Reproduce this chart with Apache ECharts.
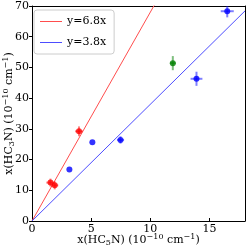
<!DOCTYPE html>
<html><head><meta charset="utf-8">
<script src="https://cdn.jsdelivr.net/npm/echarts@6/dist/echarts.min.js"></script>
<style>html,body{margin:0;padding:0;background:#fff}#c{width:249px;height:249px}</style>
</head><body><div id="c"></div>
<script>
// data
const redX = [1.56, 1.92, 3.97];
const redY = [12.5, 11.6, 29.2];
const redXerr = [0.35, 0.3, 0.33];
const redYerr = [1.3, 1.3, 1.6];
const blueX = [3.16, 5.1, 7.48, 13.9, 16.5];
const blueY = [16.8, 25.6, 26.4, 46.3, 68.3];
const blueXerr = [0.0, 0.0, 0.3, 0.5, 0.55];
const blueYerr = [0.0, 0.0, 1.2, 2.3, 2.0];
const greenX = [11.9];
const greenY = [51.4];
const greenXerr = [0.25];
const greenYerr = [2.3];
const lineNames = ['y=6.8x', 'y=3.8x'];
const lineSlopes = [6.8, 3.8];
const xTicks = [0, 5, 10, 15];
const yTicks = [0, 10, 20, 30, 40, 50, 60, 70];

const FONT = 'DejaVu Serif';
const chart = echarts.init(document.getElementById('c'), null, {renderer: 'canvas'});
const xMax = 18, yMax = 70;

function errSeries(xs, ys, xe, ye, color) {
  return {
    type: 'custom',
    silent: true,
    z: 3,
    data: xs.map((x, i) => [x, ys[i], xe[i], ye[i]]),
    renderItem: function (params, api) {
      const x = api.value(0), y = api.value(1), dx = api.value(2), dy = api.value(3);
      const children = [];
      const st = {stroke: color, lineWidth: 2, opacity: 0.5};
      if (dx > 0) {
        const a = api.coord([x - dx, y]), b = api.coord([x + dx, y]);
        children.push({type: 'line', shape: {x1: a[0], y1: a[1], x2: b[0], y2: b[1]}, style: st});
      }
      if (dy > 0) {
        const a = api.coord([x, y - dy]), b = api.coord([x, y + dy]);
        children.push({type: 'line', shape: {x1: a[0], y1: a[1], x2: b[0], y2: b[1]}, style: st});
      }
      return {type: 'group', children: children};
    },
    clip: true
  };
}
function ptSeries(xs, ys, color) {
  return {
    type: 'scatter', z: 4, symbol: 'circle', symbolSize: 6,
    itemStyle: {color: color},
    data: xs.map((x, i) => [x, ys[i]])
  };
}
const lineColors = ['#ff4d4d', '#4d4dff'];
const lines = lineSlopes.map((s, i) => ({
  type: 'line', name: lineNames[i], showSymbol: false, symbol: 'none', clip: true, z: 2,
  lineStyle: {color: lineColors[i], width: 1},
  itemStyle: {color: lineColors[i]},
  data: [[0, 0], [xMax, s * xMax]]
}));

const rich = {
  a: {fontFamily: FONT, fontSize: 11, color: '#000'},
  s: {fontFamily: FONT, fontSize: 8, color: '#000', padding: [5, 0, 0, 0]},
  p: {fontFamily: FONT, fontSize: 8, color: '#000', padding: [0, 0, 7, 0]}
};
const frame = {show: true, onZero: false, lineStyle: {color: '#000', width: 1}};

chart.setOption({
  animation: false,
  grid: {left: 32, right: 4, top: 6, bottom: 28, containLabel: false, outerBoundsMode: 'none'},
  legend: {
    left: 34, top: 10, orient: 'vertical',
    data: lineNames.map((n, i) => ({name: n, icon: 'rect', itemStyle: {color: lineColors[i]}})),
    itemWidth: 22, itemHeight: 1, itemGap: 10,
    textStyle: {fontFamily: FONT, fontSize: 11, color: '#000'},
    borderColor: '#cccccc', borderWidth: 1, borderRadius: 3,
    padding: [6, 8, 6, 6],
    backgroundColor: 'rgba(255,255,255,0.8)'
  },
  xAxis: [{
    type: 'value', min: 0, max: xMax, interval: 5,
    axisLine: frame,
    axisTick: {show: true, inside: true, length: 3, lineStyle: {color: '#000'}},
    axisLabel: {fontFamily: FONT, fontSize: 11, color: '#000', margin: 3, showMaxLabel: false},
    splitLine: {show: false},
    name: '{a|x(HC}{s|5}{a|N) (10}{p|−10}{a| cm}{p|−1}{a|)}',
    nameLocation: 'middle', nameGap: 12, nameMoveOverlap: false,
    nameTextStyle: {rich: rich}
  }, {
    type: 'value', min: 0, max: xMax, position: 'top', axisLine: frame,
    axisTick: {show: false}, axisLabel: {show: false}, splitLine: {show: false}
  }],
  yAxis: [{
    type: 'value', min: 0, max: yMax, interval: 10,
    axisLine: frame,
    axisTick: {show: true, inside: false, length: 3, lineStyle: {color: '#000'}},
    axisLabel: {fontFamily: FONT, fontSize: 11, color: '#000', margin: 3},
    splitLine: {show: false},
    name: '{a|x(HC}{s|3}{a|N) (10}{p|−10}{a| cm}{p|−1}{a|)}',
    nameLocation: 'middle', nameGap: 15, nameRotate: 90, nameMoveOverlap: false,
    nameTextStyle: {rich: rich}
  }, {
    type: 'value', min: 0, max: yMax, position: 'right', axisLine: frame,
    axisTick: {show: false}, axisLabel: {show: false}, splitLine: {show: false}
  }],
  series: [
    ...lines,
    errSeries(redX, redY, redXerr, redYerr, '#ff0000'),
    errSeries(blueX, blueY, blueXerr, blueYerr, '#0000ff'),
    errSeries(greenX, greenY, greenXerr, greenYerr, '#008000'),
    ptSeries(redX, redY, '#ff0000'),
    ptSeries(blueX, blueY, '#0000ff'),
    ptSeries(greenX, greenY, '#008000')
  ]
});
</script>
</body></html>
